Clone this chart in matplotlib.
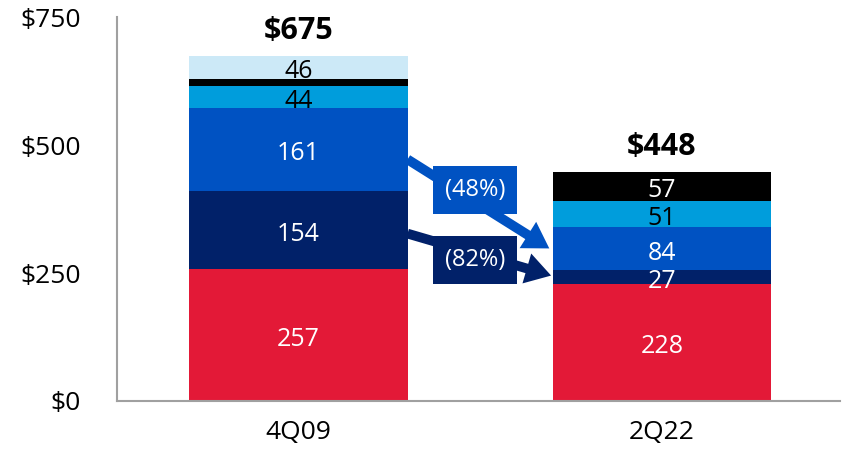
import matplotlib
matplotlib.use("Agg")
import matplotlib.pyplot as plt

categories = ["4Q09", "2Q22"]
totals = [675, 448]
totals_labels = ["$675", "$448"]
seg_red = [257, 228]
seg_navy = [154, 27]
seg_blue = [161, 84]
seg_lightblue = [44, 51]
seg_black = [13, 57]
seg_pale = [46, 1]
segments = [seg_red, seg_navy, seg_blue, seg_lightblue, seg_black, seg_pale]
seg_colors = ["#E31937", "#012169", "#0052C2", "#009DDC", "#000000", "#CCE9F7"]
seg_text_colors = ["white", "white", "white", "black", "white", "black"]
# which labels are shown (small segments without label)
seg_show = [[True, True], [True, True], [True, True], [True, True], [False, True], [True, False]]
yticks = [0, 250, 500, 750]
ytick_labels = ["$0", "$250", "$500", "$750"]
change_labels = ["(48%)", "(82%)"]

plt.rcParams['font.family'] = ['Open Sans', 'DejaVu Sans']

fig = plt.figure(figsize=(8.46, 4.51), dpi=100)
ax = fig.add_axes([0.138, 0.111, 0.855, 0.851])

x = list(range(len(categories)))
bottoms = [0] * len(categories)
for seg, col, tcol, show in zip(segments, seg_colors, seg_text_colors, seg_show):
    ax.bar(x, seg, bottom=bottoms, width=0.6, color=col, edgecolor='none')
    for i in x:
        if show[i]:
            ax.text(i, bottoms[i] + seg[i] / 2 - 8, str(seg[i]), ha='center', va='center',
                    color=tcol, fontsize=18)
    bottoms = [b + s for b, s in zip(bottoms, seg)]

for i in x:
    ax.text(i, totals[i] + 19, totals_labels[i], ha='center', va='bottom',
            fontsize=22, fontweight='bold', color='black')

# arrows
arrow_specs = [
    ((0.30, 472), (0.69, 298), "#0052C2", change_labels[0], (0.486, 412)),
    ((0.30, 327), (0.695, 245), "#012169", change_labels[1], (0.486, 275)),
]
for (x0, y0), (x1, y1), col, lab, (lx, ly) in arrow_specs:
    ax.annotate("", xy=(x1, y1), xytext=(x0, y0),
                arrowprops=dict(arrowstyle="simple,head_length=1.3,head_width=1.6,tail_width=0.5",
                                mutation_scale=14, fc=col, ec='none',
                                shrinkA=0, shrinkB=0))
    ax.text(lx, ly, lab, ha='center', va='center', color='white', fontsize=17,
            bbox=dict(boxstyle='square,pad=0.5', fc=col, ec='none'))

ax.set_xlim(-0.5, 1.49)
ax.set_ylim(0, 750)
ax.set_yticks(yticks)
ax.set_yticklabels(ytick_labels)
ax.set_xticks(x)
ax.set_xticklabels(categories)
ax.tick_params(axis='both', length=0, labelsize=19, colors='black')
ax.tick_params(axis='y', pad=26)
ax.tick_params(axis='x', pad=14)
for s in ['top', 'right']:
    ax.spines[s].set_visible(False)
for s in ['left', 'bottom']:
    ax.spines[s].set_color('#A0A0A0')
    ax.spines[s].set_linewidth(1.5)

fig.savefig("out.png", dpi=100)
